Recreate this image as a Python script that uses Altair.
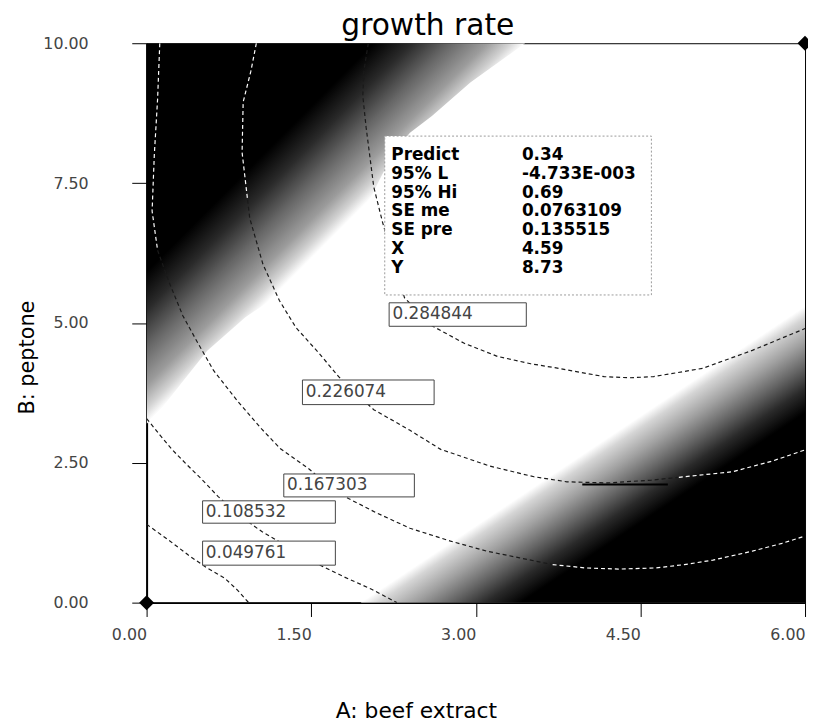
import altair as alt
import pandas as pd

# ---------------- data ----------------
x_ticks = [0.0, 1.5, 3.0, 4.5, 6.0]
y_ticks = [0.0, 2.5, 5.0, 7.5, 10.0]

chart_title = "growth rate"
level_labels = ["0.049761", "0.108532", "0.167303", "0.226074", "0.284844"]

# contour polylines (A, B); "light" pieces are the white dashes seen inside the dark shading
contour_049761 = [
    ("dark", [(0.00, 1.40), (0.20, 1.12), (0.38, 0.85), (0.55, 0.62), (0.71, 0.44), (0.83, 0.22), (0.93, 0.00)]),
]
contour_108532 = [
    ("dark", [(0.00, 3.29), (0.12, 3.00), (0.23, 2.74), (0.36, 2.48), (0.50, 2.21), (0.65, 1.90), (0.85, 1.55),
              (1.05, 1.27), (1.30, 0.98), (1.57, 0.68), (1.80, 0.46), (2.05, 0.24), (2.28, 0.00)]),
]
contour_167303 = [
    ("light", [(0.12, 10.0), (0.10, 9.0), (0.07, 8.0), (0.05, 7.0), (0.10, 6.3)]),
    ("dark", [(0.10, 6.3), (0.20, 5.75), (0.33, 5.13), (0.45, 4.70), (0.61, 4.15), (0.83, 3.60), (1.05, 3.10),
              (1.22, 2.75), (1.48, 2.39), (1.65, 2.10), (1.84, 1.86), (2.10, 1.60), (2.40, 1.33), (2.77, 1.10),
              (3.10, 0.92), (3.40, 0.80), (3.70, 0.68)]),
    ("light", [(3.70, 0.68), (4.00, 0.62), (4.30, 0.60), (4.64, 0.62), (4.90, 0.68), (5.16, 0.76), (5.52, 0.92),
               (5.79, 1.06), (6.00, 1.19)]),
]
contour_226074 = [
    ("light", [(1.00, 10.0), (0.95, 9.5), (0.88, 8.95), (0.87, 8.05), (0.92, 7.2)]),
    ("dark", [(0.92, 7.2), (0.94, 6.87), (1.06, 6.05), (1.21, 5.40), (1.36, 4.92), (1.57, 4.46), (1.75, 4.04),
              (1.90, 3.75), (2.07, 3.45), (2.40, 3.08), (2.68, 2.74), (3.13, 2.44), (3.53, 2.25), (3.83, 2.16),
              (4.20, 2.14), (4.60, 2.19), (4.85, 2.24)]),
    ("light", [(4.85, 2.24), (5.34, 2.34), (5.70, 2.53), (5.97, 2.71), (6.00, 2.73)]),
]
contour_284844 = [
    ("dark", [(2.02, 10.0), (1.98, 9.5), (1.97, 9.06), (2.00, 8.5), (2.07, 7.43), (2.15, 6.8), (2.25, 6.11),
              (2.35, 5.45), (2.60, 4.95), (2.89, 4.64), (3.20, 4.40), (3.50, 4.27), (3.72, 4.20), (4.17, 4.04),
              (4.40, 4.02), (4.62, 4.04), (5.07, 4.19), (5.52, 4.51), (6.00, 4.90)]),
]
contours = [contour_049761, contour_108532, contour_167303, contour_226074, contour_284844]

# solid piece of line seen on the 0.226074 contour
solid_A = [3.97, 4.75]
solid_B = [2.11]

# edges of the grey shading (where it fades to white)
topleft_edge_A = [0.0, 0.08, 0.32, 0.55, 0.90, 1.35, 1.70, 1.95, 2.10, 2.25, 2.40, 2.60, 2.95, 3.45]
topleft_edge_B = [3.2, 3.33, 3.93, 4.5, 5.1, 5.7, 6.28, 6.87, 7.47, 8.05, 8.4, 8.7, 9.3, 10.0]
botright_edge_A = [1.95, 2.5, 2.97, 3.4, 3.8, 4.1, 4.62, 5.22, 6.0]
botright_edge_B = [0.0, 0.8, 1.6, 2.1, 2.5, 2.9, 3.75, 4.5, 5.3]

# design points
design_A = [0.0, 6.0]
design_B = [0.0, 10.0]

# prediction read-out
info_names = ["Predict", "95% L", "95% Hi", "SE me", "SE pre", "X", "Y"]
info_values = ["0.34", "-4.733E-003", "0.69", "0.0763109", "0.135515", "4.59", "8.73"]

# ---------------- layout (annotation placement) ----------------
label_boxes = [(0.51, 1.72, 0.67, 1.10), (0.51, 1.72, 1.42, 1.82), (1.25, 2.44, 1.89, 2.30),
               (1.42, 2.62, 3.54, 3.98), (2.21, 3.46, 4.94, 5.36)]
info_box = (2.17, 4.60, 5.50, 8.34)
info_top, info_step = 8.00, 0.335
info_name_A, info_value_A = 2.23, 3.42

# ---------------- tables ----------------
rows = []
for ci, contour in enumerate(contours):
    for si, (ink, pts) in enumerate(contour):
        for pi, (a, b) in enumerate(pts):
            rows.append({"seg": f"{ci}-{si}", "ink": ink, "i": pi, "A": a, "B": b})
contour_df = pd.DataFrame(rows)

tl_df = pd.DataFrame({"A": topleft_edge_A, "B": topleft_edge_B})
br_df = pd.DataFrame({"A": botright_edge_A, "B": botright_edge_B})
design_df = pd.DataFrame({"A": design_A, "B": design_B})
solid_df = pd.DataFrame({"A": [solid_A[0]], "A2": [solid_A[1]], "B": solid_B})

box_df = pd.DataFrame([{"label": lab, "x0": bx[0], "x1": bx[1], "y0": bx[2], "y1": bx[3],
                        "tx": bx[0] + 0.03, "ty": (bx[2] + bx[3]) / 2}
                       for lab, bx in zip(level_labels, label_boxes)])
info_rect_df = pd.DataFrame([{"x0": info_box[0], "x1": info_box[1], "y0": info_box[2], "y1": info_box[3]}])
info_df = pd.DataFrame({"name": info_names, "value": info_values,
                        "B": [info_top - k * info_step for k in range(len(info_names))]})
info_df["An"] = info_name_A
info_df["Av"] = info_value_A
title_df = pd.DataFrame({"t": [chart_title]})

# ---------------- scales / axes ----------------
xs = alt.Scale(domain=[0, 6], nice=False, zero=False)
ys = alt.Scale(domain=[0, 10], nice=False, zero=False)
FONT = "DejaVu Sans"

x_axis = alt.Axis(values=x_ticks, format=".2f", title="A: beef extract", grid=False,
                  labelAlign="right", labelBaseline="top", labelFlush=False, labelPadding=10,
                  labelFont=FONT, labelFontSize=16, labelColor="#444",
                  tickSize=14, tickColor="black", tickWidth=1,
                  domainColor="black", domainWidth=2,
                  titleFont=FONT, titleFontSize=22, titleFontWeight="normal", titleColor="black",
                  titleX=272, titleY=116, titleAlign="center", titleBaseline="alphabetic")
y_axis = alt.Axis(values=y_ticks, format=".2f", title="B: peptone", grid=False,
                  labelPadding=44, labelFont=FONT, labelFontSize=16, labelColor="#444",
                  labelBaseline="middle", labelFlush=False,
                  tickSize=15, tickColor="black", tickWidth=1,
                  domainColor="black", domainWidth=2,
                  titleFont=FONT, titleFontSize=21, titleFontWeight="normal", titleColor="black",
                  titleX=-120, titleY=317, titleAlign="center", titleBaseline="middle", titleAngle=-90)


def X(field):
    return alt.X(field, type="quantitative", scale=xs, axis=x_axis, title="A: beef extract")


def Y(field):
    return alt.Y(field, type="quantitative", scale=ys, axis=y_axis, title="B: peptone", stack=False)


# ---------------- layers ----------------
tl_grad = alt.Gradient(gradient="linear", x1=0, y1=0, x2=1, y2=1, stops=[
    alt.GradientStop(color="#000000", offset=0.0),
    alt.GradientStop(color="#000000", offset=0.30),
    alt.GradientStop(color="#2a2a2a", offset=0.35),
    alt.GradientStop(color="#666666", offset=0.40),
    alt.GradientStop(color="#9c9c9c", offset=0.45),
    alt.GradientStop(color="#d2d2d2", offset=0.48),
    alt.GradientStop(color="#ffffff", offset=0.50),
    alt.GradientStop(color="#ffffff", offset=1.0)])
br_grad = alt.Gradient(gradient="linear", x1=0, y1=0, x2=1, y2=1, stops=[
    alt.GradientStop(color="#ffffff", offset=0.0),
    alt.GradientStop(color="#ffffff", offset=0.50),
    alt.GradientStop(color="#d5d5d5", offset=0.52),
    alt.GradientStop(color="#a0a0a0", offset=0.56),
    alt.GradientStop(color="#666666", offset=0.60),
    alt.GradientStop(color="#2a2a2a", offset=0.64),
    alt.GradientStop(color="#000000", offset=0.68),
    alt.GradientStop(color="#000000", offset=1.0)])

shade_tl = alt.Chart(tl_df).mark_area(color=tl_grad, clip=True).encode(
    x=X("A"), y=Y("B"), y2=alt.datum(10),
)
shade_br = alt.Chart(br_df).mark_area(color=br_grad, clip=True).encode(
    x=X("A"), y=Y("B"), y2=alt.datum(0),
)

lines = alt.Chart(contour_df).mark_line(strokeDash=[4, 3], strokeWidth=1.2, clip=True).encode(
    x=X("A"), y=Y("B"),
    color=alt.Color("ink:N", scale=alt.Scale(domain=["dark", "light"], range=["#1a1a1a", "#ffffff"]), legend=None),
    detail="seg:N",
    order=alt.Order("i:Q"),
)

solid = alt.Chart(solid_df).mark_rule(color="black", strokeWidth=2).encode(
    x=X("A"), x2="A2:Q", y=Y("B"),
)

boxes = alt.Chart(box_df).mark_rect(fill="white", stroke="#444", strokeWidth=1).encode(
    x=X("x0"), x2="x1:Q", y=Y("y0"), y2="y1:Q",
)
box_text = alt.Chart(box_df).mark_text(align="left", baseline="middle", font=FONT, fontSize=17,
                                       color="#444").encode(
    x=X("tx"), y=Y("ty"), text="label:N",
)

info_rect = alt.Chart(info_rect_df).mark_rect(fill="white", stroke="#9a9a9a", strokeWidth=1,
                                              strokeDash=[2, 2]).encode(
    x=X("x0"), x2="x1:Q", y=Y("y0"), y2="y1:Q",
)
info_names_t = alt.Chart(info_df).mark_text(align="left", baseline="middle", font=FONT, fontSize=17,
                                            fontWeight="bold", color="black").encode(
    x=X("An"), y=Y("B"), text="name:N",
)
info_values_t = alt.Chart(info_df).mark_text(align="left", baseline="middle", font=FONT, fontSize=17,
                                             fontWeight="bold", color="black").encode(
    x=X("Av"), y=Y("B"), text="value:N",
)

design = alt.Chart(design_df).mark_point(shape="diamond", filled=True, color="black", size=230,
                                         opacity=1).encode(
    x=X("A"), y=Y("B"),
)

title_t = alt.Chart(title_df).mark_text(align="center", baseline="alphabetic", font=FONT, fontSize=30,
                                        color="black").encode(
    x=alt.value(284), y=alt.value(-8), text="t:N",
)

chart = alt.layer(shade_tl, shade_br, lines, solid, boxes, box_text, info_rect,
                  info_names_t, info_values_t, design, title_t).properties(
    width=665, height=565,
    background="white",
    autosize=alt.AutoSizeParams(type="none"),
    padding={"left": 140, "top": 32, "right": 3, "bottom": 120},
).configure_view(stroke="black", strokeWidth=1)

chart.save("out.html", embed_options={"renderer": "svg", "actions": False})
